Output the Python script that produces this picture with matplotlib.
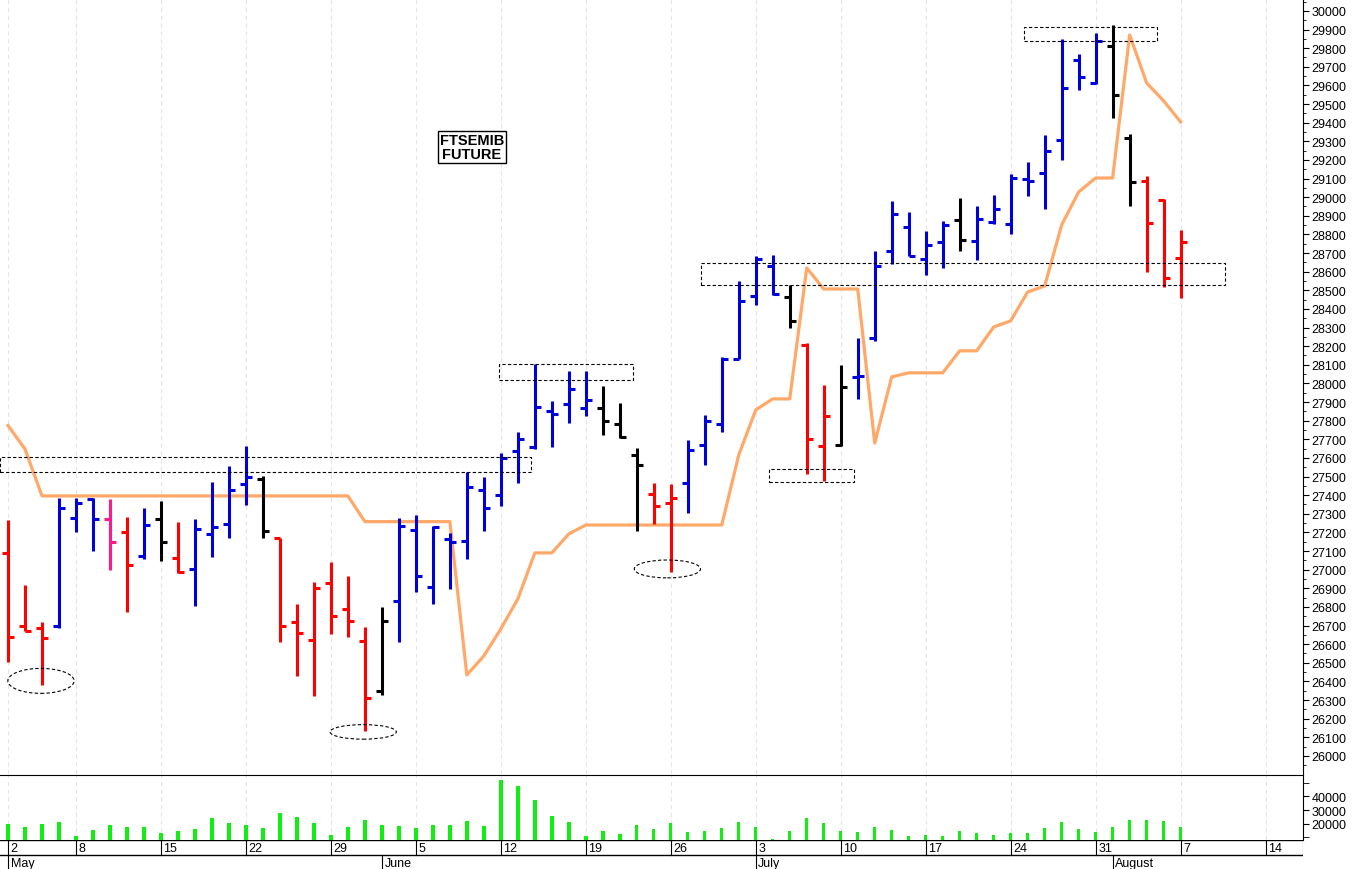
import matplotlib
matplotlib.use("Agg")
import matplotlib.pyplot as plt
from matplotlib.patches import Rectangle, Ellipse
import numpy as np

plt.rcParams['font.family'] = ['Liberation Sans', 'DejaVu Sans']

opens = [27088,26696,26687,26696,27279,27380,27273,27201,27075,27273,27061,27003,27190,27244,27460,27487,27169,26718,26625,26931,
         26789,26616,26347,26830,27213,26906,27165,27153,27428,27401,27636,27661,27854,27890,27869,27869,27783,27616,27407,27357,
         27466,27670,27783,28132,28471,28629,28466,28208,27663,27671,28033,28243,28710,28839,28669,28758,28878,28767,28866,28856,
         29098,29130,29307,29737,29612,29814,29316,29089,28985,28674]
highs = [27269,26920,26721,27385,27385,27385,27380,27282,27331,27371,27258,27273,27469,27555,27666,27505,27169,26818,26933,27040,
         26965,26691,26798,27278,27294,27237,27197,27523,27496,27625,27741,28102,27905,28069,28065,27988,27894,27652,27464,27459,
         27698,27833,28141,28549,28683,28692,28531,28218,27992,28097,28243,28710,28977,28923,28820,28874,28994,28955,29012,29125,
         29188,29334,29850,29769,29882,29925,29340,29112,28991,28824]
lows = [26506,26669,26381,26686,27201,27099,26999,26772,27056,27046,26984,26804,27067,27169,27348,27171,26611,26428,26320,26652,
        26636,26133,26329,26610,26880,26816,26897,27058,27207,27344,27466,27648,27657,27788,27824,27724,27706,27210,27246,26986,
        27305,27563,27741,28132,28420,28477,28296,27514,27478,27666,27917,28230,28642,28686,28584,28619,28713,28663,28856,28803,
        29005,28937,29202,29577,29608,29426,28951,28600,28516,28457]
closes = [26637,26669,26632,27330,27357,27273,27147,27026,27242,27147,26990,27219,27231,27428,27496,27207,26696,26659,26900,26751,
          26725,26312,26725,27237,26965,27228,27150,27446,27331,27600,27702,27872,27835,27970,27911,27797,27711,27564,27344,27385,
          27643,27800,28132,28441,28669,28481,28334,27702,27824,27980,28040,28629,28910,28686,28745,28851,28771,28883,28937,29102,
          29089,29250,29587,29644,29841,29549,29080,28862,28567,28761]
bar_colors = list("rrrbbbprbkrbbbbkrrrrrrkbbbbbbbbbbbbkkkrrbbbbbbkrrkbbbbbbkbbbbbbbbkkrrr")
orange = [27774,27648,27396,27396,27396,27396,27396,27396,27396,27396,27396,27396,27396,27396,27396,27396,27396,27396,27396,27396,
          27396,27258,27258,27258,27258,27258,27258,26435,26537,26682,26843,27090,27090,27192,27240,27240,27240,27240,27240,27240,
          27240,27240,27240,27616,27858,27917,27917,28620,28507,28507,28507,27680,28035,28057,28057,28057,28175,28175,28303,28336,
          28491,28523,28851,29028,29103,29103,29871,29613,29517,29404]
volume = [20000,17560,19780,21480,11100,15190,19260,17780,17780,13600,14590,15800,24200,20500,19260,16800,27900,25000,20740,11600,
          17300,22700,19000,18300,17040,19000,19000,22000,18300,51800,47150,37250,25400,21250,11360,15000,12600,19260,16070,20740,
          14080,14820,16800,20960,17560,8900,14590,24440,20220,14820,13850,17780,15560,10900,11600,11360,14590,13340,11850,13100,
          13600,16800,20960,16300,13850,17560,22960,22450,22200,17560]
day_ticks = [0,4,9,14,19,24,29,34,39,44,49,54,59,64,69,74]
day_labels = ["2","8","15","22","29","5","12","19","26","3","10","17","24","31","7","14"]
month_starts = [0,22,44,65]
month_labels = ["May","June","July","August"]

cmap = {"r":"#ff0000","b":"#0000d8","k":"#000000","p":"#ff1a8c"}
XL = (-0.47, 76.2)
fig = plt.figure(figsize=(13.52,8.70), dpi=100)
W = 1303/1352
ax = fig.add_axes([0, 95/870, W, 775/870])
axv = fig.add_axes([0, 29/870, W, 65/870])
axd = fig.add_axes([0, 0, W, 29/870])

for a in (ax, axv):
    a.set_xlim(*XL)
    for t in day_ticks:
        a.axvline(t, color="#e4e4ec", lw=0.8, ls=(0,(4,3)), zorder=0)

x = np.arange(len(opens))
for i in x:
    c = cmap[bar_colors[i]]
    ax.plot([i,i],[lows[i],highs[i]], color=c, lw=2.2, solid_capstyle="butt")
    ax.plot([i-0.36,i],[opens[i],opens[i]], color=c, lw=2.2, solid_capstyle="butt")
    ax.plot([i,i+0.36],[closes[i],closes[i]], color=c, lw=2.2, solid_capstyle="butt")
ax.plot(x, orange, color="#ffa868", lw=2.3, zorder=1)

ax.set_ylim(25903, 30064)
ax.yaxis.tick_right()
ax.set_yticks(np.arange(26000,30001,100))
ax.set_yticks(np.arange(25950,30051,50), minor=True)
ax.tick_params(axis="y", labelsize=9, length=4, pad=2)
ax.tick_params(axis="y", which="minor", length=2)
ax.set_xticks([])
for s in ["top","left","bottom"]:
    ax.spines[s].set_visible(False)

ls = (0,(3,2))
for (x0,x1,y0,y1) in [(-0.47,30.8,27525,27605),(28.9,36.8,28019,28105),(40.8,71.6,28529,28647),
                      (44.8,49.8,27471,27541),(59.8,67.6,29839,29914)]:
    ax.add_patch(Rectangle((x0,y0),x1-x0,y1-y0,fill=False,ec="black",lw=0.8,ls=ls,zorder=3))
for (cx,cy,w,h) in [(1.94,26403,3.9,134),(20.9,26129,3.9,78),(38.8,27004,3.9,96)]:
    ax.add_patch(Ellipse((cx,cy),w,h,fill=False,ec="black",lw=0.8,ls=ls,zorder=3))

ax.text(27.3, 29270, "FTSEMIB\nFUTURE", ha="center", va="center", fontsize=10.5, fontweight="bold",
        linespacing=1.0, bbox=dict(boxstyle="square,pad=0.15", fc="white", ec="black", lw=1))

axv.bar(x, volume, width=0.2, color="#11ee11")
axv.set_ylim(8150, 55500)
axv.yaxis.tick_right()
axv.set_yticks([20000,30000,40000])
axv.set_yticks([10000,50000], minor=True)
axv.tick_params(axis="y", labelsize=9, length=4, pad=2)
axv.tick_params(axis="y", which="minor", length=4)
axv.set_xticks([])
axv.spines["left"].set_visible(False)
axv.spines["bottom"].set_visible(False)

axd.set_xlim(*XL); axd.set_ylim(0,1)
axd.axis("off")
axd.axhline(1, color="black", lw=1)
axd.axhline(0.47, color="black", lw=1)
for t,l in zip(day_ticks, day_labels):
    axd.plot([t,t],[0.47,1], color="black", lw=0.8)
    axd.text(t+0.15, 0.73, l, ha="left", va="center", fontsize=9)
for t,l in zip(month_starts, month_labels):
    axd.plot([t,t],[0,0.47], color="black", lw=0.8)
    axd.text(t+0.15, 0.2, l, ha="left", va="center", fontsize=9)
axd.plot([XL[1]-0.02]*2,[0.47,1], color="black", lw=0.8)

fig.savefig("out.png", dpi=100)
